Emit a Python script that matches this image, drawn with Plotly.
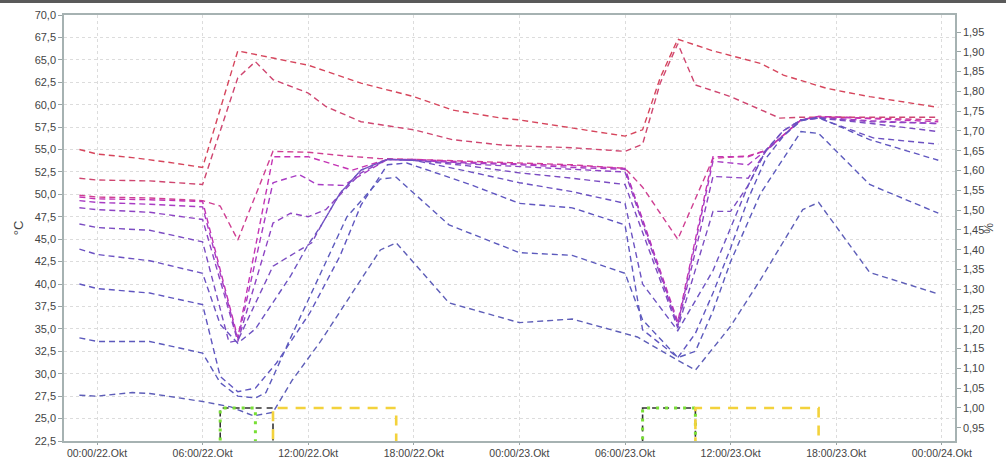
import pandas as pd
import plotly.graph_objects as go

BASE = pd.Timestamp("2012-10-22 00:00")

# ---- temperature series (hours relative to 00:00/22.Okt, values in °C) ----
s1_t = [-1, 0, 2, 4, 6, 8, 10, 12, 15, 18, 20.2, 23, 24, 27, 30, 31, 32, 33, 35, 37.7, 39, 41.5, 43.9, 47.8]
s1_v = [55.0, 54.5, 54.1, 53.6, 53.0, 66.0, 65.2, 64.4, 62.4, 60.9, 59.4, 58.5, 58.3, 57.4, 56.5, 57.2, 63.0, 67.3, 66.0, 64.6, 63.3, 61.8, 60.9, 59.7]

s2_t = [-1, 0, 3, 6, 8, 9, 10, 12, 13, 15, 18, 20.2, 23, 24, 27, 30, 31, 32, 33, 34, 36, 38.8, 40, 44, 47.8]
s2_v = [51.8, 51.6, 51.5, 51.1, 63.0, 64.8, 62.8, 61.3, 59.8, 58.1, 57.2, 56.1, 55.5, 55.4, 55.2, 54.8, 55.6, 62.4, 66.8, 62.2, 60.9, 58.5, 58.6, 58.6, 58.6]

s3_t = [-1, 0, 3, 6, 7, 8, 10, 12, 14, 16, 18, 21, 24, 27, 30, 31, 33, 35, 37, 38, 40, 41, 44, 47.8]
s3_v = [49.9, 49.7, 49.6, 49.3, 48.7, 44.9, 54.8, 54.7, 54.3, 54.0, 53.9, 53.7, 53.5, 53.3, 52.9, 50.8, 45.0, 54.0, 54.3, 54.9, 58.3, 58.7, 58.5, 58.3]

s4_t = [-1, 0, 3, 6, 8, 10, 12, 14.5, 16.5, 18, 21, 24, 27, 30, 33, 35, 37, 38, 40, 41, 44, 47.8]
s4_v = [49.7, 49.5, 49.4, 49.2, 34.0, 54.2, 54.2, 52.7, 53.9, 53.9, 53.6, 53.4, 53.2, 52.9, 35.8, 54.2, 54.2, 54.9, 58.3, 58.7, 58.4, 58.1]

s5_t = [-1, 0, 3, 6, 8, 10, 11.5, 12.5, 14, 16.5, 18, 21, 24, 27, 30, 33, 35, 37, 38, 40, 41, 44, 47.8]
s5_v = [49.3, 49.1, 48.9, 48.6, 33.8, 51.3, 52.2, 51.1, 51.0, 53.9, 53.8, 53.5, 53.3, 53.0, 52.8, 35.5, 53.7, 53.3, 54.9, 58.3, 58.6, 58.2, 57.9]

s6_t = [-1, 0, 3, 6, 8, 10, 11, 12, 13, 14, 15, 16.5, 18, 21, 24, 27, 30, 33, 35, 37, 38, 40, 41, 44, 47.8]
s6_v = [48.5, 48.3, 48.0, 47.2, 33.6, 46.8, 47.9, 47.5, 48.3, 50.4, 52.4, 53.9, 53.8, 53.4, 53.1, 52.8, 52.5, 35.3, 52.0, 51.8, 54.8, 58.3, 58.5, 58.1, 57.9]

s7_t = [-1, 0, 3, 6, 7.5, 8, 10, 11.5, 12.2, 12.7, 13.8, 15, 16.5, 18, 21, 24, 27, 30, 33, 35, 36, 37, 38, 39, 40, 41, 44, 47.8]
s7_v = [46.7, 46.3, 46.0, 44.7, 33.5, 33.7, 42.0, 43.8, 44.6, 46.4, 50.1, 52.7, 53.9, 53.8, 53.2, 52.4, 51.8, 51.1, 35.1, 48.1, 48.1, 51.0, 54.9, 57.1, 58.3, 58.5, 57.9, 57.0]

s8_t = [-1, 0, 3, 6, 7, 8, 9, 11, 12, 12.7, 13.8, 15, 16.5, 18, 21, 24, 27, 30, 31, 33, 35, 36, 37, 38, 39, 40, 41, 44.1, 47.8]
s8_v = [43.9, 43.3, 42.6, 41.2, 35.5, 33.4, 35.0, 40.9, 44.4, 46.4, 50.1, 52.7, 53.9, 53.8, 52.6, 51.3, 50.3, 49.0, 40.0, 34.8, 41.5, 46.3, 51.0, 54.9, 57.1, 58.3, 58.5, 56.3, 55.6]

s9_t = [-1, 0, 3, 6, 7, 8, 9, 10.2, 12.1, 13.8, 15, 16.5, 17.6, 21.2, 24, 27, 30, 31, 33, 34, 35, 36, 37, 38, 39, 40, 41, 43.9, 47.8]
s9_v = [40.0, 39.5, 39.0, 37.7, 29.7, 28.0, 28.4, 31.2, 36.8, 43.1, 48.8, 53.3, 53.5, 51.1, 49.0, 48.5, 46.6, 34.9, 31.8, 34.5, 39.0, 44.0, 49.5, 54.0, 56.5, 58.2, 58.6, 56.1, 53.8]

s10_t = [-1, 0, 3, 6, 7, 8, 9, 9.6, 11, 12.7, 14.2, 16.1, 17, 20, 24, 27, 30, 31, 33, 34, 35, 36, 37.7, 40, 41, 43.9, 47.8]
s10_v = [34.0, 33.6, 33.6, 32.3, 29.0, 27.5, 27.3, 27.9, 34.0, 41.2, 47.5, 51.7, 51.9, 46.6, 43.5, 43.2, 41.2, 36.0, 31.8, 32.5, 37.0, 42.5, 50.1, 57.0, 56.8, 51.1, 47.9]

s11_t = [-1, 0, 2, 3, 6, 7.6, 8.9, 10, 11.1, 12.7, 16.1, 17, 20, 24, 27, 30.7, 33, 34, 36, 37.7, 40.1, 41, 43.9, 47.8]
s11_v = [27.6, 27.5, 27.9, 27.8, 26.9, 26.3, 25.3, 25.7, 29.3, 33.6, 43.8, 44.6, 37.9, 35.7, 36.1, 34.1, 31.5, 30.4, 35.3, 40.5, 48.3, 49.1, 41.3, 38.9]

temp_series = [
    (s1_t, s1_v, "#d6455c"),
    (s2_t, s2_v, "#cf4670"),
    (s3_t, s3_v, "#cf3f92"),
    (s4_t, s4_v, "#c433b4"),
    (s5_t, s5_v, "#a83cc4"),
    (s6_t, s6_v, "#8e44c4"),
    (s7_t, s7_v, "#7b4cc2"),
    (s8_t, s8_v, "#6c52c2"),
    (s9_t, s9_v, "#6056c0"),
    (s10_t, s10_v, "#5c5abd"),
    (s11_t, s11_v, "#5e5eb8"),
]

# ---- on/off signals on the right axis (%) ----
black_t = [-1, 7, 10, 31, 34, 47.8]
black_v = [0, 1, 0, 1, 0, 0]
green_t = [-1, 7, 9, 31, 34, 47.8]
green_v = [0, 1, 0, 1, 0, 0]
yellow_t = [-1, 10, 17, 34, 41, 47.8]
yellow_v = [0, 1, 0, 1, 0, 0]


def to_dt(hours):
    return BASE + pd.to_timedelta(hours, unit="h")


fig = go.Figure()
for t, v, c in temp_series:
    fig.add_trace(go.Scatter(x=to_dt(t), y=v, mode="lines",
                             line=dict(color=c, width=1.4, dash="6px,4px"),
                             showlegend=False, hoverinfo="skip"))

fig.add_trace(go.Scatter(x=to_dt(black_t), y=black_v, mode="lines", yaxis="y2",
                         line=dict(color="#333333", width=1.6, dash="6px,5px", shape="hv"),
                         showlegend=False, hoverinfo="skip"))
fig.add_trace(go.Scatter(x=to_dt(green_t), y=green_v, mode="lines", yaxis="y2",
                         line=dict(color="#78df35", width=3, dash="3px,6px", shape="hv"),
                         showlegend=False, hoverinfo="skip"))
fig.add_trace(go.Scatter(x=to_dt(yellow_t), y=yellow_v, mode="lines", yaxis="y2",
                         line=dict(color="#f3d23c", width=2.6, dash="10px,8px", shape="hv"),
                         showlegend=False, hoverinfo="skip"))

PLOT_L, PLOT_R, PLOT_T, PLOT_B = 64, 955, 15, 441
W, H = 1006, 458
pw, ph = PLOT_R - PLOT_L, PLOT_B - PLOT_T

fig.update_layout(
    width=W, height=H, autosize=False,
    margin=dict(l=PLOT_L, r=W - PLOT_R, t=PLOT_T, b=H - PLOT_B, pad=0, autoexpand=False),
    paper_bgcolor="white", plot_bgcolor="white",
    separators=", ",
    font=dict(family="Liberation Sans, Arial, sans-serif", size=11, color="#444444"),
    xaxis=dict(
        type="date", automargin=False,
        range=[to_dt(-1.875), to_dt(48.75)],
        tick0=BASE, dtick=6 * 3600 * 1000,
        tickformat="%H:%M/%d.Okt",
        showgrid=True, gridcolor="#dcdcdc", griddash="dot", gridwidth=1,
        ticks="outside", ticklen=2, tickcolor="#9aa5a5",
        showline=True, linecolor="#a6b2b2", linewidth=1.5, mirror=True,
        zeroline=False, tickfont=dict(size=10.5),
    ),
    yaxis=dict(
        automargin=False,
        range=[22.5, 70], tick0=22.5, dtick=2.5, tickformat=".1f",
        showgrid=True, gridcolor="#dcdcdc", griddash="dot", gridwidth=1,
        ticks="outside", ticklen=4, tickcolor="#9aa5a5",
        showline=True, linecolor="#a6b2b2", linewidth=1.5,
        zeroline=False,
        title=dict(text="°C", standoff=8, font=dict(size=13)),
    ),
    yaxis2=dict(
        automargin=False,
        overlaying="y", side="right",
        range=[0.9166, 1.993], tick0=0.95, dtick=0.05, tickformat=".2f",
        showgrid=False, zeroline=False,
        ticks="outside", ticklen=4, tickcolor="#9aa5a5",
        showline=True, linecolor="#a6b2b2", linewidth=1.5,
    ),
    annotations=[dict(text="%", xref="paper", yref="paper",
                      x=(988 - PLOT_L) / pw, y=(PLOT_B - 228) / ph,
                      xanchor="center", yanchor="middle", textangle=90,
                      showarrow=False, font=dict(size=12, color="#444444"))],
    shapes=[dict(type="rect", xref="paper", yref="paper",
                 x0=-PLOT_L / pw, x1=(W - PLOT_L) / pw,
                 y0=(PLOT_B - 3) / ph, y1=(PLOT_B + 1) / ph,
                 fillcolor="#5a5a5a", line=dict(width=0), layer="above")],
)

fig.write_html("out.html")
